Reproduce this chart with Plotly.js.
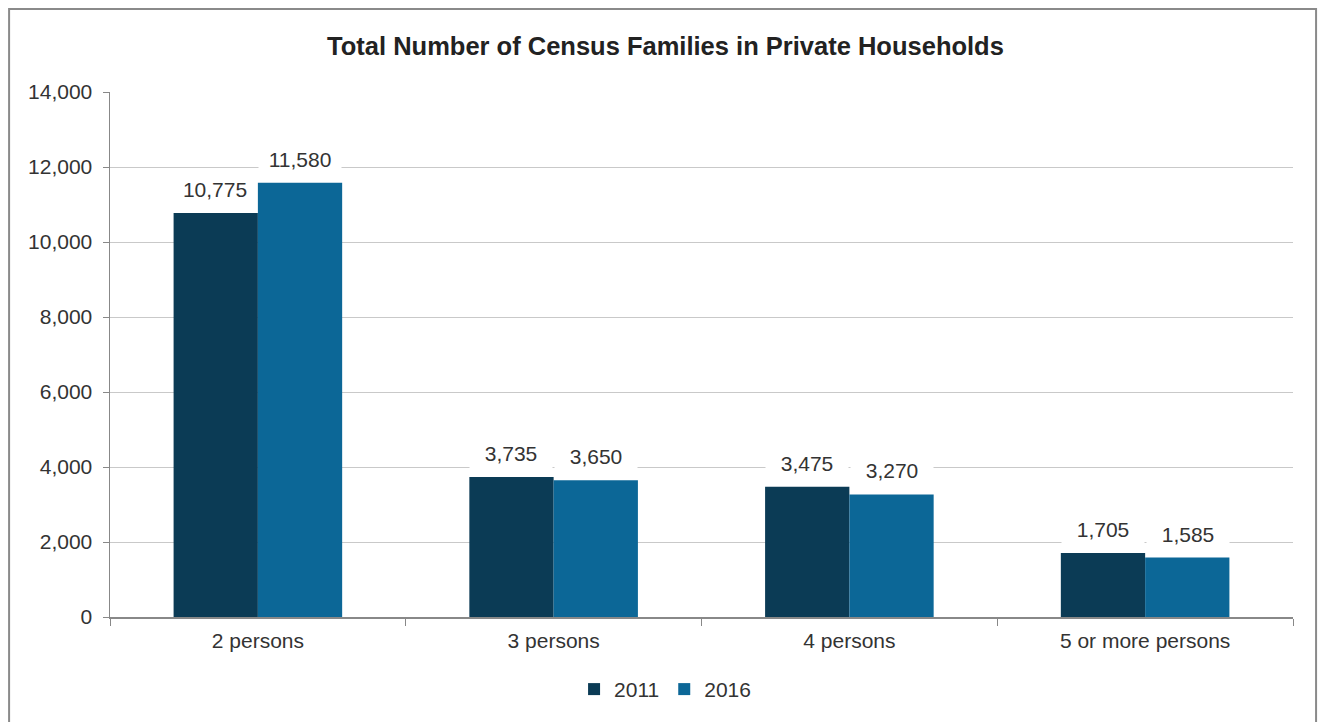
<!DOCTYPE html>
<html>
<head>
<meta charset="utf-8">
<script src="https://cdn.plot.ly/plotly-3.0.1.min.js"></script>
<style>html,body{margin:0;padding:0;background:#fff}#chart{width:1323px;height:722px}</style>
</head>
<body>
<div id="chart"></div>
<script>
const categories = ["2 persons", "3 persons", "4 persons", "5 or more persons"];
const values2011 = [10775, 3735, 3475, 1705];
const values2016 = [11580, 3650, 3270, 1585];
const seriesNames = ["2011", "2016"];
const yTicks = [0, 2000, 4000, 6000, 8000, 10000, 12000, 14000];

const colors = ["#0b3b55", "#0c6797"];
const font = "Liberation Sans, Arial, sans-serif";
const fs = 21;

const traces = [values2011, values2016].map((vals, i) => ({
  type: "bar",
  name: seriesNames[i],
  x: categories,
  y: vals,
  marker: {color: colors[i], line: {width: 0}},
  hoverinfo: "skip"
}));

const annotations = [];
[values2011, values2016].forEach((vals, i) => {
  vals.forEach((v, j) => {
    annotations.push({
      x: categories[j], y: v, xref: "x", yref: "y",
      xshift: (i === 0 ? -1 : 1) * 42.5,
      yanchor: "bottom", yshift: 8,
      text: v.toLocaleString("en-US"),
      showarrow: false, bgcolor: "#ffffff",
      width: 76, borderpad: 3,
      font: {family: font, size: fs, color: "#333333"}
    });
  });
});

const layout = {
  width: 1323, height: 722,
  margin: {l: 110, r: 30, t: 92, b: 105, autoexpand: false},
  paper_bgcolor: "#ffffff", plot_bgcolor: "#ffffff",
  title: {text: "<b>Total Number of Census Families in Private Households</b>",
    x: 0.503, xref: "container", y: 0.936, yanchor: "middle",
    font: {family: font, size: 25.5, color: "#222222"}},
  barmode: "group", bargap: 0.43, bargroupgap: 0,
  xaxis: {
    type: "category", showgrid: false, showline: true, linecolor: "#888888", linewidth: 1.5,
    ticks: "outside", ticklen: 7, tickcolor: "#888888", tickson: "boundaries",
    ticklabelstandoff: 4, tickangle: 0, automargin: false,
    tickfont: {family: font, size: fs, color: "#333333"}, fixedrange: true
  },
  yaxis: {
    range: [0, 14000], tickvals: yTicks, tickformat: ",d",
    showgrid: true, gridcolor: "#c9c9c9", gridwidth: 1,
    showline: true, linecolor: "#888888", linewidth: 1.5,
    ticks: "outside", ticklen: 6, tickcolor: "#888888",
    ticklabelstandoff: 6, automargin: false,
    tickfont: {family: font, size: fs, color: "#333333"}, zeroline: false, fixedrange: true
  },
  legend: {orientation: "h", x: 0.4692, xanchor: "center", y: -0.138, yanchor: "middle",
    font: {family: font, size: fs, color: "#333333"}, itemwidth: 30, traceorder: "normal"},
  annotations: annotations,
  shapes: [{type: "rect", xref: "paper", yref: "paper",
    x0: -0.0853, x1: 1.0195, y0: -0.25, y1: 1.1581,
    line: {color: "#8a8a8a", width: 2}, fillcolor: "rgba(0,0,0,0)", layer: "below"}],
  showlegend: true
};

Plotly.newPlot("chart", traces, layout, {displayModeBar: false, staticPlot: true});
</script>
</body>
</html>
